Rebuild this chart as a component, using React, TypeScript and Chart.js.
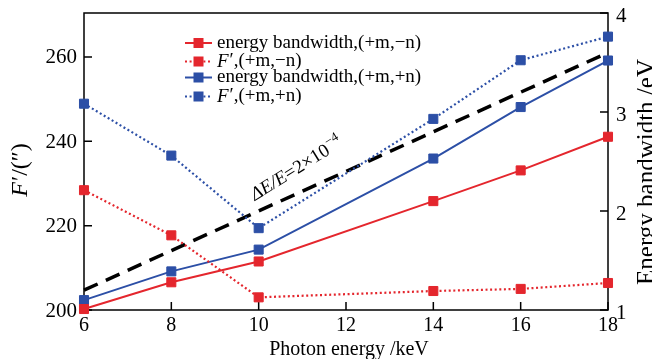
import React, { useEffect, useRef } from "react";
import { Chart, registerables } from "chart.js";

Chart.register(...registerables);

// ---- data ----
const photonEnergy = [6, 8, 10, 14, 16, 18];
const bandwidthMinusN = [1.01, 1.28, 1.49, 2.1, 2.41, 2.75];
const fPrimeMinusN = [228.4, 217.7, 203.0, 204.5, 205.0, 206.4];
const bandwidthPlusN = [1.1, 1.39, 1.61, 2.53, 3.05, 3.52];
const fPrimePlusN = [248.9, 236.6, 219.4, 245.3, 259.2, 264.8];
const limitEnergy = [6, 18];
const limitBandwidth = [1.2, 3.6];
const leftTickValues = [200, 220, 240, 260];

const legendLabels = [
  "energy bandwidth,(+m,−n)",
  "F′,(+m,−n)",
  "energy bandwidth,(+m,+n)",
  "F′,(+m,+n)",
];
const xTitle = "Photon energy /keV";
const yTitle = "F′/(″)";
const y1Title = "Energy bandwidth /eV";
const annotationMain = "ΔE/E";
const annotationRest = "=2×10";
const annotationSup = "−4";

const RED = "#e4262d";
const BLUE = "#2c4fa6";
const SERIF = "'Liberation Serif', 'Times New Roman', serif";

const W = 680;
const H = 372;

const pts = (xs: number[], ys: number[]) => xs.map((x, i) => ({ x, y: ys[i] }));

const noPad = (s: any) => {
  s.paddingTop = 0;
  s.paddingBottom = 0;
  s.paddingLeft = 0;
  s.paddingRight = 0;
};

const overlay = {
  id: "overlay",
  beforeDatasetsDraw(chart: any) {
    const ctx = chart.ctx;
    const { left, right, top, bottom } = chart.chartArea;
    const sx = chart.scales.x;
    const sy = chart.scales.y;
    const sy1 = chart.scales.y1;
    ctx.save();
    ctx.strokeStyle = "#000";
    ctx.lineWidth = 1.5;
    ctx.strokeRect(left, top, right - left, bottom - top);
    ctx.beginPath();
    const TL = 8;
    sx.ticks.forEach((t: any) => {
      const p = sx.getPixelForValue(t.value);
      ctx.moveTo(p, bottom);
      ctx.lineTo(p, bottom - TL);
    });
    sy.ticks.forEach((t: any) => {
      const p = sy.getPixelForValue(t.value);
      ctx.moveTo(left, p);
      ctx.lineTo(left + TL, p);
    });
    sy1.ticks.forEach((t: any) => {
      const p = sy1.getPixelForValue(t.value);
      ctx.moveTo(right, p);
      ctx.lineTo(right - TL, p);
    });
    ctx.stroke();
    ctx.restore();
  },
  afterDraw(chart: any) {
    const ctx = chart.ctx;
    ctx.save();
    ctx.fillStyle = "#000";

    // legend
    const rowsY = [43, 61.5, 77.5, 96.5];
    const ds = chart.data.datasets;
    legendLabels.forEach((label, i) => {
      const d = ds[i];
      const yy = rowsY[i];
      ctx.save();
      ctx.strokeStyle = d.borderColor;
      ctx.lineWidth = d.borderWidth;
      ctx.setLineDash(d.borderDash || []);
      ctx.beginPath();
      ctx.moveTo(185, yy);
      ctx.lineTo(212, yy);
      ctx.stroke();
      ctx.setLineDash([]);
      ctx.fillStyle = d.pointBackgroundColor;
      ctx.fillRect(198.5 - 5, yy - 5, 10, 10);
      ctx.restore();
      ctx.textBaseline = "middle";
      ctx.textAlign = "left";
      let x = 217;
      let rest = label;
      if (label.startsWith("F")) {
        ctx.font = `italic 19px ${SERIF}`;
        ctx.fillText("F", x, yy);
        x += ctx.measureText("F").width + 1;
        rest = label.slice(1);
      }
      ctx.font = `19px ${SERIF}`;
      ctx.fillText(rest, x, yy);
    });

    // annotation along the dashed line
    ctx.save();
    ctx.translate(255, 201);
    ctx.rotate((-32 * Math.PI) / 180);
    ctx.textBaseline = "alphabetic";
    ctx.textAlign = "left";
    ctx.font = `italic 19px ${SERIF}`;
    ctx.fillText(annotationMain, 0, 0);
    let ax = ctx.measureText(annotationMain).width;
    ctx.font = `19px ${SERIF}`;
    ctx.fillText(annotationRest, ax, 0);
    ax += ctx.measureText(annotationRest).width;
    ctx.font = `13px ${SERIF}`;
    ctx.fillText(annotationSup, ax + 1, -8);
    ctx.restore();

    // x title
    ctx.font = `20px ${SERIF}`;
    ctx.textAlign = "center";
    ctx.textBaseline = "alphabetic";
    ctx.fillText(xTitle, 349, 355);

    // left title
    ctx.save();
    ctx.translate(21, 170);
    ctx.rotate(-Math.PI / 2);
    ctx.textBaseline = "middle";
    ctx.textAlign = "left";
    ctx.font = `italic 24px ${SERIF}`;
    const fW = ctx.measureText("F").width;
    ctx.font = `24px ${SERIF}`;
    const restT = yTitle.slice(1);
    const rW = ctx.measureText(restT).width;
    const start = -(fW + rW + 1) / 2;
    ctx.font = `italic 24px ${SERIF}`;
    ctx.fillText("F", start, 0);
    ctx.font = `24px ${SERIF}`;
    ctx.fillText(restT, start + fW + 1, 0);
    ctx.restore();

    // right title (partly outside the visible window)
    ctx.save();
    ctx.translate(654, 172);
    ctx.rotate(-Math.PI / 2);
    ctx.textBaseline = "alphabetic";
    ctx.textAlign = "center";
    ctx.font = `25px ${SERIF}`;
    ctx.fillText(y1Title, 0, 0);
    ctx.restore();

    ctx.restore();
  },
};

export default function App() {
  const ref = useRef<HTMLCanvasElement | null>(null);
  useEffect(() => {
    if (!ref.current) return;
    const lineDs = (data: any, color: string, axis: string, dotted: boolean) => ({
      data,
      yAxisID: axis,
      borderColor: color,
      backgroundColor: color,
      pointBackgroundColor: color,
      pointBorderColor: color,
      borderWidth: dotted ? 2.2 : 2,
      borderDash: dotted ? [2, 2.6] : [],
      pointStyle: "rect",
      pointRadius: 6.4,
      pointBorderWidth: 1,
      pointHoverRadius: 6.4,
      tension: 0,
      clip: false,
    });
    const chart = new Chart(ref.current, {
      type: "line",
      data: {
        datasets: [
          lineDs(pts(photonEnergy, bandwidthMinusN), RED, "y1", false),
          lineDs(pts(photonEnergy, fPrimeMinusN), RED, "y", true),
          lineDs(pts(photonEnergy, bandwidthPlusN), BLUE, "y1", false),
          lineDs(pts(photonEnergy, fPrimePlusN), BLUE, "y", true),
          {
            data: pts(limitEnergy, limitBandwidth),
            yAxisID: "y1",
            borderColor: "#000",
            borderWidth: 3.5,
            borderDash: [15, 9],
            pointRadius: 0,
            clip: false,
          } as any,
        ] as any,
      },
      options: {
        animation: false,
        responsive: false,
        devicePixelRatio: 1,
        events: [],
        layout: { padding: { top: 13, left: 0, right: 0, bottom: 0 } },
        plugins: { legend: { display: false }, tooltip: { enabled: false }, title: { display: false } },
        scales: {
          x: {
            type: "linear",
            min: 6,
            max: 18,
            ticks: {
              stepSize: 2,
              color: "#000",
              font: { family: SERIF, size: 20 },
              padding: 4,
              maxRotation: 0,
            },
            grid: { display: false, drawTicks: false },
            border: { display: false },
            afterFit: (s: any) => {
              s.height = H - 310;
              noPad(s);
            },
          },
          y: {
            position: "left",
            min: 200,
            max: 270.4,
            afterBuildTicks: (s: any) => {
              s.ticks = leftTickValues.map((v) => ({ value: v }));
            },
            ticks: {
              color: "#000",
              font: { family: SERIF, size: 21 },
              padding: 7,
              labelOffset: 1,
            },
            grid: { display: false, drawTicks: false },
            border: { display: false },
            afterFit: (s: any) => {
              s.width = 84;
              noPad(s);
            },
          },
          y1: {
            position: "right",
            min: 1,
            max: 4,
            ticks: {
              stepSize: 1,
              color: "#000",
              font: { family: SERIF, size: 21 },
              padding: 8,
              labelOffset: 3,
            },
            grid: { display: false, drawTicks: false },
            border: { display: false },
            afterFit: (s: any) => {
              s.width = W - 608;
              noPad(s);
            },
          },
        },
      } as any,
      plugins: [overlay],
    });
    return () => chart.destroy();
  }, []);
  return (
    <div
      style={{
        position: "fixed",
        left: 0,
        top: 0,
        width: 652,
        height: 359,
        overflow: "hidden",
        background: "#fff",
      }}
    >
      <canvas ref={ref} width={W} height={H} style={{ width: W, height: H, display: "block" }} />
    </div>
  );
}
